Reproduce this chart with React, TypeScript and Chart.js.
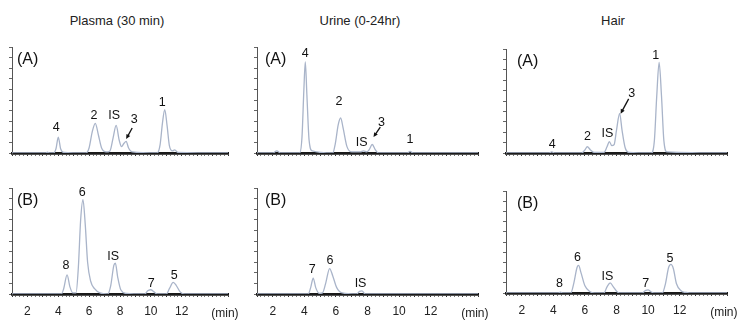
import React, { useEffect, useRef } from "react";
import { Chart, registerables } from "chart.js";
Chart.register(...registerables);

type Pt = [number, number];
type Lbl = [string, number, number];
type Arrow = [number, number, number, number];

// ---------- DATA ----------
const columnTitles = ["Plasma (30 min)", "Urine (0-24hr)", "Hair"];
const rowTags = ["(A)", "(B)"];
const xTickLabels = [2, 4, 6, 8, 10, 12];
const xUnitLabel = "(min)";
const timeRange: [number, number] = [1, 15];

// chromatogram traces: [time (min), response (% of panel height)]
const plasmaA: Pt[] = [
  [1, 0], [3.2, 0], [3.3, 0.8], [3.4, 0], [3.7, 0], [3.85, 4], [4.0, 15], [4.15, 4], [4.35, 0.5],
  [5.8, 0], [6.0, 5], [6.2, 20], [6.4, 28], [6.6, 17], [6.8, 5], [7.1, 1], [7.35, 2], [7.55, 14],
  [7.75, 26], [7.95, 12], [8.1, 6], [8.25, 9], [8.4, 11], [8.55, 5], [8.8, 1], [10.4, 0], [10.6, 8],
  [10.75, 28], [10.9, 41], [11.05, 26], [11.2, 7], [11.4, 2], [11.55, 3], [11.75, 0.5], [15, 0],
];
const plasmaB: Pt[] = [
  [1, 0], [4.2, 0], [4.35, 5], [4.57, 18], [4.75, 7], [4.95, 1], [5.15, 1], [5.3, 25], [5.45, 70],
  [5.6, 89], [5.75, 65], [5.9, 30], [6.1, 12], [6.35, 5], [6.7, 1], [7.2, 0], [7.4, 8], [7.6, 27],
  [7.7, 29], [7.85, 16], [8.05, 4], [8.4, 0.5], [9.6, 0], [9.8, 3], [10.0, 4], [10.2, 2], [10.4, 0],
  [11.0, 0], [11.2, 5], [11.45, 11], [11.65, 8], [11.9, 2], [12.2, 0], [15, 0],
];
const urineA: Pt[] = [
  [1, 0], [2.0, 0], [2.25, 2], [2.5, 0], [3.7, 0], [3.85, 15], [3.97, 60], [4.06, 86], [4.16, 55],
  [4.3, 12], [4.5, 2], [5.8, 0], [5.95, 8], [6.15, 27], [6.3, 33], [6.45, 24], [6.7, 6], [7.0, 1],
  [7.55, 1], [7.75, 2], [7.95, 1], [8.1, 3], [8.3, 8], [8.5, 3], [8.7, 0], [10.5, 0], [10.7, 1.5],
  [10.9, 0], [15, 0],
];
const urineB: Pt[] = [
  [1, 0], [4.25, 0], [4.4, 6], [4.56, 15], [4.72, 6], [4.95, 0.5], [5.15, 1], [5.35, 10], [5.6, 24],
  [5.8, 17], [6.05, 6], [6.4, 1], [7.3, 0], [7.5, 2.5], [7.65, 3], [7.85, 0], [15, 0],
];
const hairA: Pt[] = [
  [1, 0], [3.7, 0], [3.9, 1], [4.1, 0], [5.8, 0], [6.0, 3], [6.15, 6], [6.35, 3], [6.6, 0.5],
  [7.2, 0.5], [7.4, 6], [7.55, 11], [7.7, 7], [7.85, 8], [8.0, 22], [8.2, 38], [8.35, 22], [8.55, 5],
  [8.8, 0.5], [10.2, 0], [10.4, 12], [10.55, 55], [10.7, 87], [10.85, 55], [11.0, 12], [11.2, 1], [15, 0],
];
const hairB: Pt[] = [
  [1, 0], [4.3, 0], [4.45, 0.8], [4.6, 0], [5.1, 0], [5.3, 10], [5.5, 25], [5.6, 27], [5.75, 20],
  [6.0, 7], [6.3, 1.5], [6.6, 0], [7.2, 0], [7.4, 6], [7.6, 10], [7.8, 6], [8.05, 1], [8.3, 0],
  [9.6, 0], [9.85, 2.5], [10.0, 3], [10.2, 1], [10.5, 0], [10.9, 0], [11.1, 9], [11.3, 25], [11.45, 28],
  [11.6, 24], [11.8, 9], [12.1, 2], [12.4, 0.5], [12.6, 0], [15, 0],
];

// peak labels: [text, time, response]
const plasmaALabels: Lbl[] = [["4", 3.86, 23.6], ["2", 6.32, 35], ["IS", 7.62, 35], ["3", 8.92, 32], ["1", 10.74, 48]];
const plasmaBLabels: Lbl[] = [["6", 5.55, 96], ["8", 4.5, 27], ["IS", 7.56, 35], ["7", 10.03, 10], ["5", 11.52, 17]];
const urineALabels: Lbl[] = [["4", 4.06, 94], ["2", 6.19, 49], ["IS", 7.63, 10], ["3", 8.88, 29], ["1", 10.69, 13]];
const urineBLabels: Lbl[] = [["7", 4.5, 23], ["6", 5.63, 32], ["IS", 7.56, 10]];
const hairALabels: Lbl[] = [["1", 10.49, 94], ["3", 8.96, 57], ["IS", 7.43, 19], ["2", 6.16, 16], ["4", 3.93, 8.5]];
const hairBLabels: Lbl[] = [["6", 5.52, 35], ["IS", 7.43, 16], ["8", 4.38, 9.4], ["7", 9.85, 9.4], ["5", 11.38, 34]];

// arrows: [fromTime, fromResp, toTime, toResp]
const plasmaAArrows: Arrow[] = [[8.79, 23.6, 8.4, 13.2]];
const urineAArrows: Arrow[] = [[8.81, 24.5, 8.38, 15]];
const hairAArrows: Arrow[] = [[8.77, 52, 8.26, 37.7]];

// ---------- LAYOUT ----------
const FONT = "'Liberation Sans', Arial, Helvetica, sans-serif";
const colAxisLeft = [12, 257, 506];
const colAxisRight = [228, 478, 727];
const colTitleX = [117, 360, 613];
const colTagOffset = [5, 8, 11];
const panelTop = [[47, 188], [47, 188], [49, 191]];
const panelBottom = [[153, 294], [153, 294], [153, 293]];
const PADL = 10, PADR = 16, PADT = 14, XH = 28, PADB = 2;

type PanelProps = {
  col: number;
  row: number;
  trace: Pt[];
  labels: Lbl[];
  arrows: Arrow[];
};

function Panel({ col, row, trace, labels, arrows }: PanelProps) {
  const ref = useRef<HTMLCanvasElement | null>(null);
  const left = colAxisLeft[col];
  const right = colAxisRight[col];
  const top = panelTop[col][row];
  const bottom = panelBottom[col][row];
  const plotH = bottom - top;
  const cw = right - left + PADL + PADR;
  const ch = PADT + plotH + XH + PADB;
  const showLabels = row === 1;

  useEffect(() => {
    if (!ref.current) return;
    const annot = {
      id: "annot",
      afterDraw(chart: any) {
        const c = chart.ctx;
        const xs = chart.scales.x;
        const ys = chart.scales.y;
        const a = chart.chartArea;
        c.save();
        c.fillStyle = "#111";
        c.textAlign = "left";
        c.textBaseline = "middle";
        c.font = `16px ${FONT}`;
        c.fillText(rowTags[row], a.left + colTagOffset[col], a.top + 13);
        c.font = `12.5px ${FONT}`;
        c.textAlign = "center";
        for (const [t, x, y] of labels) {
          c.fillText(t, xs.getPixelForValue(x), ys.getPixelForValue(y));
        }
        if (showLabels) {
          c.font = `12px ${FONT}`;
          c.fillStyle = "#222";
          c.fillText(xUnitLabel, xs.getPixelForValue(14.8), a.bottom + 20);
        }
        c.strokeStyle = "#111";
        c.fillStyle = "#111";
        c.lineWidth = 1.3;
        for (const [x1, y1, x2, y2] of arrows) {
          const px1 = xs.getPixelForValue(x1), py1 = ys.getPixelForValue(y1);
          const px2 = xs.getPixelForValue(x2), py2 = ys.getPixelForValue(y2);
          const ang = Math.atan2(py2 - py1, px2 - px1);
          const hl = 5;
          c.beginPath();
          c.moveTo(px1, py1);
          c.lineTo(px2 - Math.cos(ang) * 3, py2 - Math.sin(ang) * 3);
          c.stroke();
          c.beginPath();
          c.moveTo(px2, py2);
          c.lineTo(px2 - hl * Math.cos(ang - 0.45), py2 - hl * Math.sin(ang - 0.45));
          c.lineTo(px2 - hl * Math.cos(ang + 0.45), py2 - hl * Math.sin(ang + 0.45));
          c.closePath();
          c.fill();
        }
        c.restore();
      },
    };
    const chart = new Chart(ref.current, {
      type: "line",
      data: {
        datasets: [
          {
            data: trace.map(([x, y]) => ({ x, y })),
            borderColor: "#a9b4c9",
            borderWidth: 1.3,
            pointRadius: 0,
            cubicInterpolationMode: "monotone",
            fill: false,
          },
        ],
      },
      options: {
        responsive: false,
        animation: false,
        events: [],
        layout: { padding: { left: PADL, right: PADR, top: PADT, bottom: PADB } },
        plugins: { legend: { display: false }, tooltip: { enabled: false } },
        scales: {
          x: {
            type: "linear",
            min: timeRange[0],
            max: timeRange[1],
            z: 1,
            afterFit: (s: any) => {
              s.height = XH;
            },
            ticks: {
              stepSize: 0.25,
              autoSkip: false,
              maxRotation: 0,
              display: showLabels,
              padding: 7,
              color: "#222",
              font: { family: FONT, size: 12 },
              callback: (v: any) => (xTickLabels.includes(Number(v)) ? String(v) : ""),
            },
            grid: {
              drawOnChartArea: false,
              drawTicks: true,
              tickLength: 3,
              color: (ctx: any) => (ctx.tick && Number.isInteger(ctx.tick.value) ? "#333" : "#777"),
              lineWidth: 1,
            },
            border: { display: true, color: "#1a1a1a", width: 2.8 },
          },
          y: {
            min: 0,
            max: 100,
            afterFit: (s: any) => {
              s.width = 0;
            },
            ticks: { display: false, stepSize: 10 },
            grid: { drawOnChartArea: false, drawTicks: true, tickLength: 3, color: "#666", lineWidth: 1 },
            border: { display: true, color: "#555", width: 1 },
          },
        },
      } as any,
      plugins: [annot],
    });
    return () => chart.destroy();
  }, []);

  return (
    <canvas
      ref={ref}
      width={cw}
      height={ch}
      style={{ position: "absolute", left: left - PADL, top: top - PADT, width: cw, height: ch }}
    />
  );
}

export default function App() {
  const traces = [
    [plasmaA, plasmaB],
    [urineA, urineB],
    [hairA, hairB],
  ];
  const labelSets = [
    [plasmaALabels, plasmaBLabels],
    [urineALabels, urineBLabels],
    [hairALabels, hairBLabels],
  ];
  const arrowSets = [
    [plasmaAArrows, [] as Arrow[]],
    [urineAArrows, [] as Arrow[]],
    [hairAArrows, [] as Arrow[]],
  ];
  return (
    <div style={{ position: "absolute", left: 0, top: 0, width: 737, height: 320, background: "#fff", overflow: "hidden" }}>
      {columnTitles.map((t, i) => (
        <div
          key={t}
          style={{
            position: "absolute",
            left: colTitleX[i] - 100,
            width: 200,
            top: 13,
            textAlign: "center",
            font: `13px ${FONT}`,
            color: "#222",
          }}
        >
          {t}
        </div>
      ))}
      {[0, 1, 2].map((c) =>
        [0, 1].map((r) => (
          <Panel key={`${c}-${r}`} col={c} row={r} trace={traces[c][r]} labels={labelSets[c][r]} arrows={arrowSets[c][r]} />
        ))
      )}
    </div>
  );
}
